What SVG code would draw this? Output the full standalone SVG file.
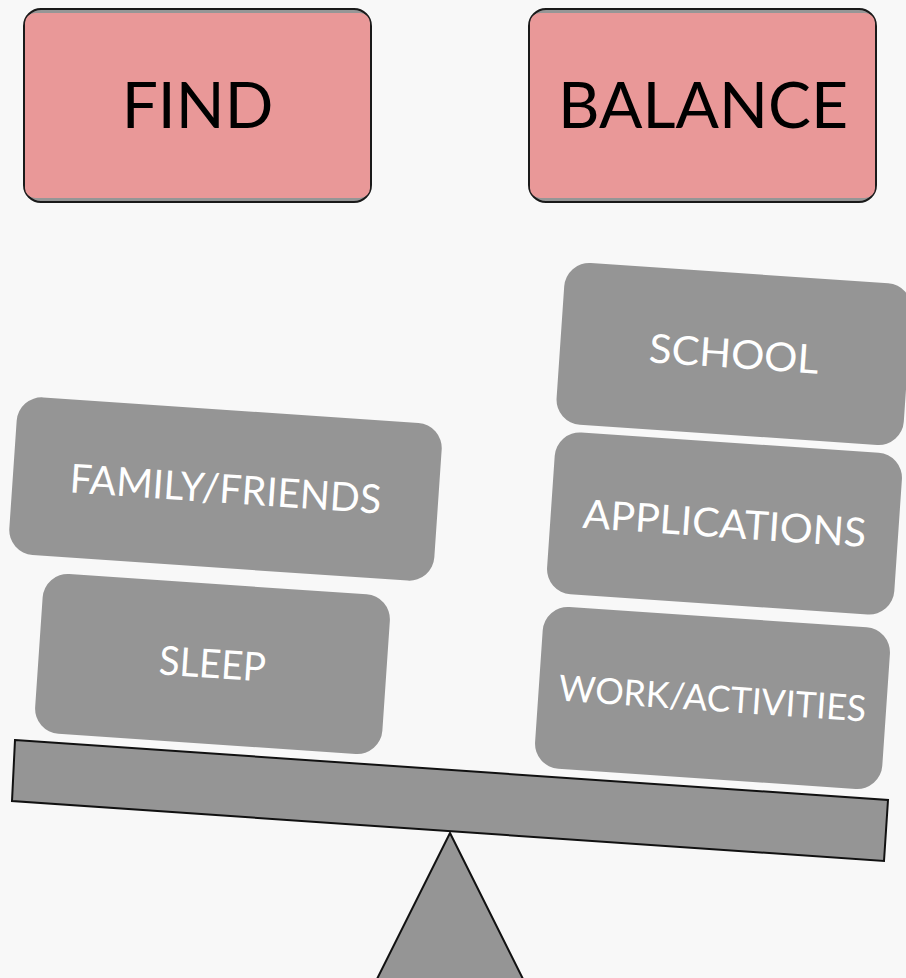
<svg xmlns="http://www.w3.org/2000/svg" width="906" height="978" viewBox="0 0 906 978">
<style>
.hdr-back{fill:#969696;stroke:#1a1a1a;stroke-width:2}
.hdr-face{fill:#e99898}
.hdr-text{font-family:Lato,"Open Sans","Liberation Sans",sans-serif;font-size:64px;fill:#000;text-anchor:middle}
.blk{fill:#959595}
.blk-text{font-family:Lato,"Open Sans","Liberation Sans",sans-serif;font-size:40px;fill:#fff;text-anchor:middle}
.stand{fill:#959595;stroke:#111;stroke-width:2;stroke-linejoin:miter}
</style>
<rect width="906" height="978" fill="#f8f8f8"/>
<g id="find">
<rect class="hdr-back" x="24" y="9" width="347" height="193" rx="17"/>
<rect class="hdr-face" x="25" y="13" width="345" height="185" rx="10"/>
<text class="hdr-text" x="197.5" y="128">FIND</text>
</g>
<g id="balance">
<rect class="hdr-back" x="529" y="9" width="347" height="193" rx="17"/>
<rect class="hdr-face" x="530" y="13" width="345" height="185" rx="10"/>
<text class="hdr-text" x="703" y="128" textLength="290" lengthAdjust="spacingAndGlyphs">BALANCE</text>
</g>
<g id="beam">
<polygon class="stand" points="15,740 888,800 884,861 12,801"/>
</g>
<g id="fulcrum">
<polygon class="stand" points="450,833 523,979 377,979"/>
</g>
<g id="school" transform="translate(734,354) rotate(3.9)">
<rect class="blk" x="-174" y="-81" width="348" height="162" rx="25"/>
<text class="blk-text" x="0" y="14" textLength="170" lengthAdjust="spacingAndGlyphs">SCHOOL</text>
</g>
<g id="applications" transform="translate(724.5,523.5) rotate(3.9)">
<rect class="blk" x="-174" y="-81" width="348" height="162" rx="25"/>
<text class="blk-text" x="0" y="14" textLength="284" lengthAdjust="spacingAndGlyphs">APPLICATIONS</text>
</g>
<g id="work-activities" transform="translate(712.5,698) rotate(3.9)">
<rect class="blk" x="-174" y="-81" width="348" height="162" rx="25"/>
<text class="blk-text" x="0" y="13" style="font-size:36px" textLength="308" lengthAdjust="spacingAndGlyphs">WORK/ACTIVITIES</text>
</g>
<g id="family-friends" transform="translate(225.5,489) rotate(3.9)">
<rect class="blk" x="-213" y="-79" width="426" height="158" rx="25"/>
<text class="blk-text" x="0" y="14" textLength="312" lengthAdjust="spacingAndGlyphs">FAMILY/FRIENDS</text>
</g>
<g id="sleep" transform="translate(212.5,664) rotate(3.9)">
<rect class="blk" x="-174" y="-80" width="348" height="160" rx="25"/>
<text class="blk-text" x="0" y="14" textLength="107" lengthAdjust="spacingAndGlyphs">SLEEP</text>
</g>
</svg>
